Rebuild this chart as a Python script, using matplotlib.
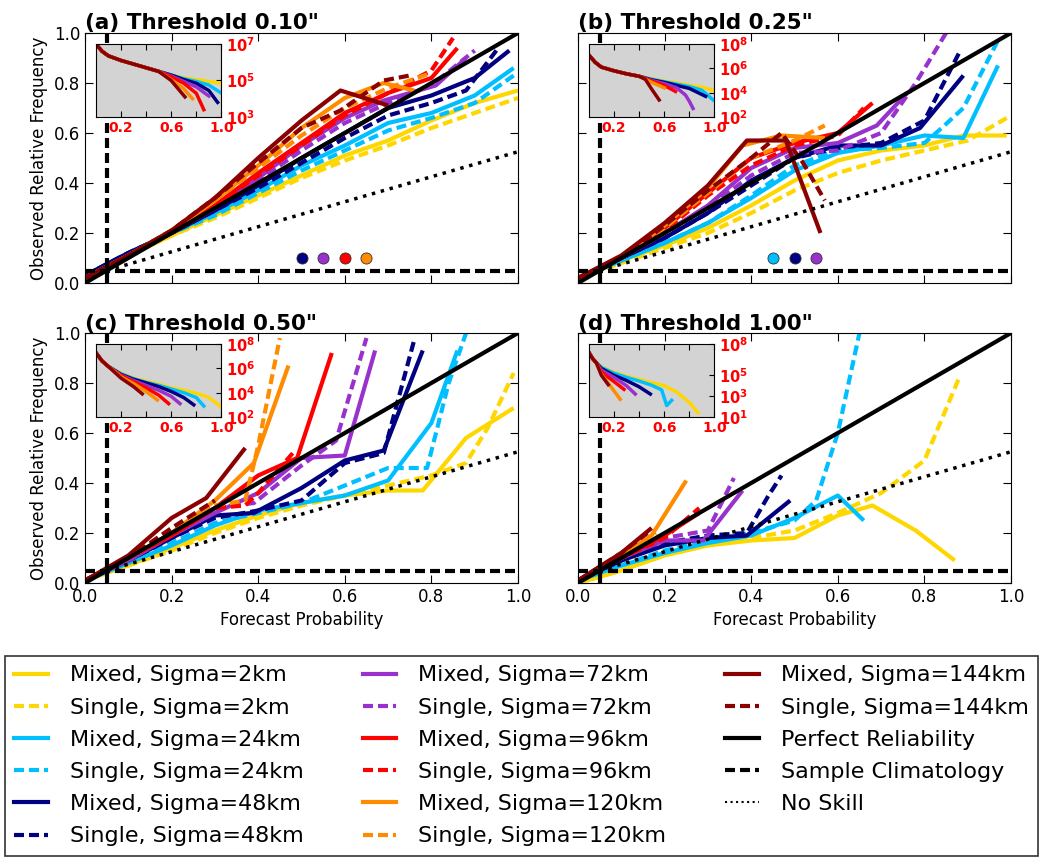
import matplotlib
matplotlib.use('Agg')
import matplotlib.pyplot as plt
from matplotlib.lines import Line2D

# Sigma values and their colours
sigmas = ['2km', '24km', '48km', '72km', '96km', '120km', '144km']
colors = ['#FFD700', '#00BFFF', '#000080', '#9932CC', '#FF0000', '#FF8C00', '#8B0000']

titles = ['(a) Threshold 0.10"', '(b) Threshold 0.25"',
          '(c) Threshold 0.50"', '(d) Threshold 1.00"']
climatology = [0.05, 0.05, 0.05, 0.05]

# ---------------- reliability curves (x, y) per sigma ----------------
a_mixed = [
    ([0.0, 0.1, 0.2, 0.3, 0.4, 0.5, 0.6, 0.7, 0.8, 0.9, 1.0],
     [0.02, 0.11, 0.19, 0.27, 0.35, 0.43, 0.51, 0.57, 0.65, 0.72, 0.77]),
    ([0.0, 0.1, 0.2, 0.3, 0.4, 0.5, 0.6, 0.7, 0.8, 0.9, 0.99],
     [0.03, 0.12, 0.2, 0.28, 0.37, 0.47, 0.55, 0.64, 0.68, 0.75, 0.86]),
    ([0.0, 0.1, 0.2, 0.3, 0.4, 0.5, 0.6, 0.7, 0.8, 0.9, 0.98],
     [0.03, 0.12, 0.2, 0.29, 0.39, 0.5, 0.6, 0.7, 0.75, 0.82, 0.93]),
    ([0.0, 0.1, 0.2, 0.3, 0.4, 0.5, 0.6, 0.69, 0.81, 0.88],
     [0.02, 0.11, 0.2, 0.3, 0.42, 0.55, 0.66, 0.73, 0.79, 0.9]),
    ([0.0, 0.1, 0.2, 0.3, 0.4, 0.5, 0.6, 0.7, 0.8, 0.86],
     [0.02, 0.11, 0.2, 0.31, 0.44, 0.56, 0.68, 0.76, 0.82, 0.94]),
    ([0.0, 0.1, 0.2, 0.3, 0.4, 0.5, 0.6, 0.69, 0.76],
     [0.02, 0.11, 0.21, 0.33, 0.47, 0.62, 0.74, 0.8, 0.77]),
    ([0.0, 0.1, 0.2, 0.3, 0.4, 0.5, 0.59, 0.7],
     [0.02, 0.11, 0.21, 0.34, 0.5, 0.65, 0.77, 0.71]),
]
a_single = [
    ([0.0, 0.1, 0.2, 0.3, 0.4, 0.5, 0.6, 0.7, 0.8, 0.9, 1.0],
     [0.02, 0.11, 0.19, 0.26, 0.34, 0.42, 0.49, 0.55, 0.62, 0.68, 0.74]),
    ([0.0, 0.1, 0.2, 0.3, 0.4, 0.5, 0.6, 0.7, 0.8, 0.9, 0.99],
     [0.03, 0.12, 0.2, 0.27, 0.36, 0.45, 0.53, 0.61, 0.66, 0.72, 0.83]),
    ([0.0, 0.1, 0.2, 0.3, 0.4, 0.5, 0.6, 0.7, 0.8, 0.88, 0.95],
     [0.03, 0.12, 0.2, 0.29, 0.38, 0.48, 0.58, 0.67, 0.72, 0.77, 0.93]),
    ([0.0, 0.1, 0.2, 0.3, 0.4, 0.5, 0.6, 0.7, 0.8, 0.9],
     [0.02, 0.11, 0.2, 0.3, 0.41, 0.53, 0.64, 0.72, 0.79, 0.93]),
    ([0.0, 0.1, 0.2, 0.3, 0.4, 0.5, 0.6, 0.7, 0.8, 0.85],
     [0.02, 0.11, 0.2, 0.31, 0.43, 0.55, 0.67, 0.76, 0.85, 0.98]),
    ([0.0, 0.1, 0.2, 0.3, 0.4, 0.5, 0.6, 0.7, 0.8],
     [0.02, 0.11, 0.21, 0.33, 0.46, 0.59, 0.7, 0.78, 0.84]),
    ([0.0, 0.1, 0.2, 0.3, 0.4, 0.5, 0.59, 0.69, 0.75],
     [0.02, 0.11, 0.21, 0.34, 0.48, 0.62, 0.69, 0.81, 0.83]),
]

b_mixed = [
    ([0.0, 0.1, 0.2, 0.3, 0.4, 0.5, 0.6, 0.7, 0.8, 0.89, 0.99],
     [0.02, 0.09, 0.15, 0.22, 0.31, 0.41, 0.49, 0.53, 0.55, 0.59, 0.59]),
    ([0.0, 0.1, 0.2, 0.3, 0.4, 0.5, 0.6, 0.7, 0.8, 0.89, 0.97],
     [0.02, 0.09, 0.16, 0.24, 0.34, 0.45, 0.52, 0.55, 0.59, 0.58, 0.87]),
    ([0.0, 0.1, 0.2, 0.3, 0.4, 0.5, 0.6, 0.7, 0.79, 0.89],
     [0.02, 0.1, 0.18, 0.28, 0.41, 0.5, 0.55, 0.55, 0.62, 0.83]),
    ([0.0, 0.1, 0.2, 0.3, 0.4, 0.5, 0.6, 0.69, 0.76],
     [0.02, 0.1, 0.2, 0.31, 0.46, 0.54, 0.56, 0.63, 0.76]),
    ([0.0, 0.1, 0.2, 0.3, 0.4, 0.5, 0.6, 0.68],
     [0.02, 0.1, 0.22, 0.36, 0.5, 0.56, 0.6, 0.72]),
    ([0.0, 0.1, 0.2, 0.3, 0.38, 0.47, 0.57],
     [0.02, 0.1, 0.23, 0.38, 0.55, 0.59, 0.58]),
    ([0.0, 0.1, 0.2, 0.3, 0.39, 0.48, 0.56],
     [0.02, 0.11, 0.24, 0.39, 0.57, 0.57, 0.2]),
]
b_single = [
    ([0.0, 0.1, 0.2, 0.3, 0.4, 0.5, 0.6, 0.7, 0.8, 0.9, 0.99],
     [0.02, 0.08, 0.14, 0.2, 0.28, 0.37, 0.44, 0.49, 0.53, 0.57, 0.66]),
    ([0.0, 0.1, 0.2, 0.3, 0.4, 0.5, 0.6, 0.7, 0.8, 0.84, 0.89, 0.97],
     [0.02, 0.09, 0.16, 0.24, 0.35, 0.47, 0.53, 0.54, 0.56, 0.62, 0.7, 0.97]),
    ([0.0, 0.1, 0.2, 0.3, 0.4, 0.5, 0.6, 0.7, 0.8, 0.88],
     [0.02, 0.1, 0.18, 0.28, 0.39, 0.5, 0.54, 0.56, 0.65, 0.92]),
    ([0.0, 0.1, 0.2, 0.3, 0.4, 0.5, 0.6, 0.7, 0.78, 0.85],
     [0.02, 0.1, 0.2, 0.3, 0.43, 0.52, 0.53, 0.6, 0.8, 1.0]),
    ([0.0, 0.1, 0.2, 0.3, 0.4, 0.5, 0.6, 0.66],
     [0.02, 0.1, 0.21, 0.35, 0.47, 0.55, 0.59, 0.7]),
    ([0.0, 0.1, 0.2, 0.3, 0.4, 0.5, 0.57],
     [0.02, 0.1, 0.22, 0.36, 0.5, 0.57, 0.63]),
    ([0.0, 0.1, 0.2, 0.3, 0.4, 0.47, 0.52, 0.57],
     [0.02, 0.1, 0.23, 0.37, 0.5, 0.6, 0.48, 0.33]),
]

c_mixed = [
    ([0.0, 0.1, 0.2, 0.3, 0.4, 0.5, 0.6, 0.7, 0.78, 0.88, 0.99],
     [0.01, 0.07, 0.14, 0.21, 0.27, 0.32, 0.35, 0.37, 0.37, 0.58, 0.7]),
    ([0.0, 0.1, 0.2, 0.3, 0.4, 0.5, 0.6, 0.7, 0.8, 0.86],
     [0.01, 0.08, 0.15, 0.23, 0.29, 0.32, 0.35, 0.41, 0.64, 0.93]),
    ([0.0, 0.1, 0.2, 0.3, 0.39, 0.5, 0.6, 0.69, 0.78],
     [0.01, 0.09, 0.18, 0.27, 0.28, 0.38, 0.49, 0.53, 0.93]),
    ([0.0, 0.1, 0.2, 0.3, 0.4, 0.5, 0.6, 0.67],
     [0.01, 0.09, 0.19, 0.28, 0.36, 0.5, 0.51, 0.93]),
    ([0.0, 0.1, 0.2, 0.3, 0.4, 0.49, 0.57],
     [0.01, 0.1, 0.19, 0.3, 0.43, 0.5, 0.92]),
    ([0.0, 0.1, 0.2, 0.3, 0.39, 0.47],
     [0.01, 0.1, 0.2, 0.33, 0.48, 0.87]),
    ([0.0, 0.1, 0.2, 0.28, 0.37],
     [0.01, 0.11, 0.26, 0.34, 0.54]),
]
c_single = [
    ([0.0, 0.1, 0.2, 0.3, 0.4, 0.5, 0.6, 0.7, 0.8, 0.88, 0.93, 0.99],
     [0.01, 0.07, 0.13, 0.2, 0.26, 0.31, 0.35, 0.39, 0.43, 0.48, 0.62, 0.84]),
    ([0.0, 0.1, 0.2, 0.3, 0.4, 0.5, 0.6, 0.7, 0.79, 0.84, 0.88],
     [0.01, 0.08, 0.16, 0.24, 0.28, 0.32, 0.39, 0.46, 0.46, 0.8, 1.0]),
    ([0.0, 0.1, 0.2, 0.3, 0.4, 0.5, 0.6, 0.69, 0.76],
     [0.01, 0.09, 0.18, 0.26, 0.29, 0.33, 0.48, 0.52, 0.97]),
    ([0.0, 0.1, 0.2, 0.3, 0.39, 0.5, 0.58, 0.65],
     [0.01, 0.09, 0.19, 0.3, 0.32, 0.47, 0.57, 0.98]),
    ([0.0, 0.1, 0.2, 0.3, 0.37, 0.4, 0.48],
     [0.01, 0.1, 0.19, 0.3, 0.31, 0.36, 0.52]),
    ([0.0, 0.1, 0.2, 0.3, 0.37, 0.4, 0.45],
     [0.01, 0.1, 0.21, 0.31, 0.33, 0.55, 0.98]),
    ([0.0, 0.1, 0.2, 0.3],
     [0.01, 0.1, 0.22, 0.33]),
]

d_mixed = [
    ([0.0, 0.1, 0.2, 0.3, 0.4, 0.5, 0.6, 0.68, 0.78, 0.87],
     [0.0, 0.05, 0.11, 0.15, 0.17, 0.18, 0.27, 0.31, 0.21, 0.09]),
    ([0.0, 0.1, 0.2, 0.3, 0.4, 0.5, 0.6, 0.66],
     [0.01, 0.07, 0.12, 0.16, 0.19, 0.26, 0.35, 0.25]),
    ([0.0, 0.1, 0.2, 0.3, 0.39, 0.49],
     [0.01, 0.09, 0.15, 0.18, 0.19, 0.33]),
    ([0.0, 0.1, 0.2, 0.29, 0.38],
     [0.01, 0.1, 0.17, 0.17, 0.37]),
    ([0.0, 0.1, 0.2, 0.28],
     [0.01, 0.1, 0.19, 0.28]),
    ([0.0, 0.1, 0.17, 0.25],
     [0.01, 0.11, 0.19, 0.41]),
    ([0.0, 0.1, 0.17],
     [0.01, 0.12, 0.22]),
]
d_single = [
    ([0.0, 0.1, 0.2, 0.3, 0.4, 0.5, 0.6, 0.7, 0.8, 0.88],
     [0.0, 0.05, 0.12, 0.16, 0.18, 0.21, 0.28, 0.36, 0.49, 0.82]),
    ([0.0, 0.1, 0.2, 0.3, 0.4, 0.5, 0.55, 0.6, 0.65],
     [0.01, 0.07, 0.13, 0.17, 0.2, 0.25, 0.33, 0.6, 1.0]),
    ([0.0, 0.1, 0.2, 0.3, 0.39, 0.44, 0.47],
     [0.01, 0.09, 0.16, 0.19, 0.2, 0.35, 0.43]),
    ([0.0, 0.1, 0.2, 0.3, 0.36],
     [0.01, 0.1, 0.18, 0.21, 0.42]),
    ([0.0, 0.1, 0.2, 0.28],
     [0.01, 0.1, 0.18, 0.3]),
    ([0.0, 0.1, 0.18],
     [0.01, 0.11, 0.2]),
    ([0.0, 0.1, 0.16],
     [0.01, 0.12, 0.2]),
]

# ---------------- forecast counts (log10) for the insets ----------------
a_count_head = ([0.0, 0.05, 0.1, 0.2, 0.3, 0.4, 0.5],
                [7.0, 6.6, 6.35, 6.1, 5.9, 5.7, 5.5])
a_count_tail = [
    ([0.6, 0.7, 0.8, 0.9, 0.99], [5.3, 5.15, 5.05, 4.95, 4.85]),
    ([0.6, 0.7, 0.8, 0.9, 0.99], [5.3, 5.1, 4.95, 4.75, 4.35]),
    ([0.6, 0.7, 0.8, 0.9, 0.97], [5.3, 5.05, 4.85, 4.45, 3.8]),
    ([0.6, 0.7, 0.8, 0.9], [5.25, 4.95, 4.65, 4.15]),
    ([0.6, 0.7, 0.8, 0.86], [5.2, 4.85, 4.3, 3.4]),
    ([0.6, 0.7, 0.77], [5.05, 4.55, 4.0]),
    ([0.6, 0.71], [5.0, 4.1]),
]
b_count_head = ([0.0, 0.05, 0.1, 0.2, 0.3, 0.4],
                [7.1, 6.5, 6.1, 5.8, 5.55, 5.35])
b_count_tail = [
    ([0.5, 0.6, 0.7, 0.8, 0.9, 0.99], [5.15, 4.95, 4.8, 4.6, 4.45, 4.2]),
    ([0.5, 0.6, 0.7, 0.8, 0.9, 0.99], [5.1, 4.9, 4.7, 4.5, 4.2, 3.4]),
    ([0.5, 0.6, 0.7, 0.8, 0.93], [5.05, 4.85, 4.6, 4.35, 3.7]),
    ([0.5, 0.6, 0.7, 0.77, 0.8, 0.83], [5.0, 4.75, 4.4, 3.8, 3.3, 2.7]),
    ([0.5, 0.6, 0.69], [4.95, 4.6, 4.1]),
    ([0.5, 0.6], [4.85, 4.4]),
    ([0.45, 0.5, 0.56], [5.1, 4.3, 3.4]),
]
c_count_head = ([0.0, 0.05, 0.1], [7.3, 6.6, 6.15])
c_count_tail = [
    ([0.2, 0.3, 0.4, 0.5, 0.6, 0.7, 0.8, 0.9, 0.99],
     [5.6, 5.2, 4.95, 4.7, 4.4, 4.2, 3.95, 3.6, 2.9]),
    ([0.2, 0.3, 0.4, 0.5, 0.6, 0.7, 0.8, 0.86],
     [5.55, 5.15, 4.85, 4.6, 4.3, 4.0, 3.6, 2.9]),
    ([0.2, 0.3, 0.4, 0.5, 0.6, 0.7, 0.78], [5.5, 5.1, 4.8, 4.5, 4.1, 3.6, 3.0]),
    ([0.2, 0.3, 0.4, 0.5, 0.6, 0.67], [5.45, 5.0, 4.6, 4.2, 3.7, 3.1]),
    ([0.2, 0.3, 0.4, 0.5, 0.58], [5.4, 4.9, 4.4, 3.8, 3.1]),
    ([0.2, 0.3, 0.4, 0.49], [5.3, 4.75, 4.1, 3.4]),
    ([0.2, 0.3, 0.37], [5.2, 4.5, 3.9]),
]
d_count_head = ([0.0, 0.03, 0.06], [7.2, 6.6, 6.2])
d_count_tail = [
    ([0.1, 0.2, 0.3, 0.4, 0.5, 0.6, 0.7, 0.8, 0.87],
     [5.8, 5.3, 4.9, 4.6, 4.3, 4.0, 3.4, 2.4, 1.4]),
    ([0.1, 0.2, 0.3, 0.4, 0.5, 0.58, 0.62, 0.66],
     [5.75, 5.2, 4.8, 4.45, 4.05, 3.6, 2.1, 2.6]),
    ([0.1, 0.2, 0.3, 0.4, 0.49], [5.65, 5.0, 4.5, 3.9, 3.2]),
    ([0.1, 0.2, 0.3, 0.37], [5.5, 4.8, 4.0, 3.2]),
    ([0.1, 0.2, 0.28], [5.3, 4.4, 3.65]),
    ([0.1, 0.17, 0.25], [5.1, 4.0, 2.7]),
    ([0.1, 0.155], [5.0, 4.1]),
]

# inset log axis: (low, high) exponent and labelled exponents
count_limits = [(3, 7), (2, 8), (2, 8), (1, 8)]
count_ticks = [[3, 5, 7], [2, 4, 6, 8], [2, 4, 6, 8], [1, 3, 5, 8]]

# markers along the bottom of panels (a) and (b)
a_dot_sigmas = ['48km', '72km', '96km', '120km']
a_dot_x = [0.5, 0.55, 0.6, 0.65]
b_dot_sigmas = ['24km', '48km', '72km']
b_dot_x = [0.45, 0.5, 0.55]
dot_y = 0.1

mixed_all = [a_mixed, b_mixed, c_mixed, d_mixed]
single_all = [a_single, b_single, c_single, d_single]
count_heads = [a_count_head, b_count_head, c_count_head, d_count_head]
count_tails = [a_count_tail, b_count_tail, c_count_tail, d_count_tail]
dots_all = [(a_dot_sigmas, a_dot_x), (b_dot_sigmas, b_dot_x), ([], []), ([], [])]

DASH = (0, (2.4, 1.2))
LW = 3

fig = plt.figure(figsize=(10.43, 8.61), dpi=100)

W, H = 1043.0, 861.0
boxes = [(85, 33), (578, 33), (85, 333), (578, 333)]  # left, top in pixels
aw, ah = 433, 250

for i, (px, py) in enumerate(boxes):
    ax = fig.add_axes([px / W, 1 - (py + ah) / H, aw / W, ah / H])
    clim = climatology[i]

    for c, (mx, my), (sx, sy) in zip(colors, mixed_all[i], single_all[i]):
        ax.plot(mx, my, color=c, lw=LW, solid_capstyle='butt')
        ax.plot(sx, sy, color=c, lw=LW, ls=DASH)

    ax.plot([0, 1], [0, 1], color='k', lw=LW)
    ax.axhline(clim, color='k', lw=LW, ls=DASH)
    ax.axvline(clim, color='k', lw=LW, ls=DASH)
    ax.plot([clim, 1], [clim, clim + (1 - clim) / 2], color='k', lw=2.5, ls=':')

    dsig, dx = dots_all[i]
    for s, x in zip(dsig, dx):
        ax.plot(x, dot_y, 'o', color=colors[sigmas.index(s)], ms=8,
                mec='#333333', mew=0.6, zorder=5)

    ax.set_xlim(0, 1)
    ax.set_ylim(0, 1)
    ax.set_xticks([0, 0.2, 0.4, 0.6, 0.8, 1.0])
    ax.set_yticks([0, 0.2, 0.4, 0.6, 0.8, 1.0])
    ax.tick_params(direction='in', top=True, right=True, length=6,
                   labelsize=12, labelleft=(i % 2 == 0), labelbottom=(i >= 2))
    ax.set_title(titles[i], loc='left', fontsize=15.5, fontweight='bold', pad=2)
    if i % 2 == 0:
        ax.set_ylabel('Observed Relative Frequency', fontsize=12)
    if i >= 2:
        ax.set_xlabel('Forecast Probability', fontsize=12)

    # inset: number of forecasts per probability bin
    ins = ax.inset_axes([0.025, 0.664, 0.29, 0.292])
    ins.set_facecolor('#d3d3d3')
    hx, hy = count_heads[i]
    for c, (tx, ty) in zip(colors, count_tails[i]):
        ins.plot(hx + tx, [10 ** v for v in hy + ty], color=c, lw=2.5)
    lo, hi = count_limits[i]
    ins.set_yscale('log')
    ins.set_ylim(10 ** lo, 10 ** hi)
    ins.set_xlim(0, 1)
    ins.set_xticks([0.2, 0.4, 0.6, 0.8, 1.0])
    ins.set_xticklabels(['0.2', '', '0.6', '', '1.0'], color='red',
                        fontsize=10, fontweight='bold')
    ins.yaxis.tick_right()
    ins.set_yticks([10 ** e for e in count_ticks[i]])
    ins.set_yticklabels([r'$\mathbf{10^{%d}}$' % e for e in count_ticks[i]],
                        color='red', fontsize=10.5)
    ins.tick_params(axis='x', direction='in', top=True, length=4, pad=3)
    ins.tick_params(axis='y', which='both', direction='in', left=False,
                    right=True, pad=3)
    ins.tick_params(axis='y', which='minor', length=2, labelright=False)

handles = []
for c, s in zip(colors, sigmas):
    handles.append(Line2D([], [], color=c, lw=LW, label='Mixed, Sigma=' + s))
    handles.append(Line2D([], [], color=c, lw=LW, ls=DASH, label='Single, Sigma=' + s))
handles.append(Line2D([], [], color='k', lw=LW, label='Perfect Reliability'))
handles.append(Line2D([], [], color='k', lw=LW, ls=DASH, label='Sample Climatology'))
handles.append(Line2D([], [], color='k', lw=1.5, ls=':', label='No Skill'))

leg = fig.legend(handles=handles, loc='upper left', ncol=3, mode='expand',
                 bbox_to_anchor=(5 / W, 0.0, 1033 / W, 1 - 656 / H),
                 borderaxespad=0, fontsize=16, handlelength=1.5,
                 handletextpad=1.0, labelspacing=0.55, borderpad=0.42,
                 fancybox=False, framealpha=1)
leg.get_frame().set_edgecolor('#333333')
leg.get_frame().set_linewidth(1.2)

fig.savefig('out.png', dpi=100)
